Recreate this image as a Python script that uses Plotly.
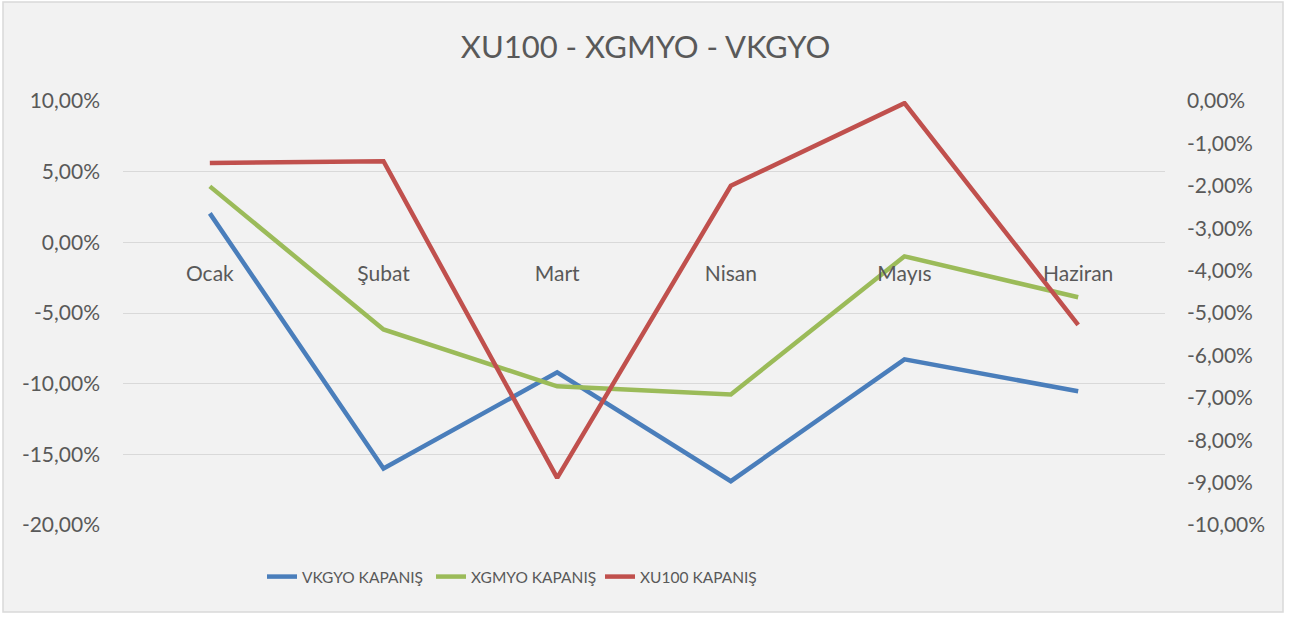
import plotly.graph_objects as go

months = ["Ocak", "Şubat", "Mart", "Nisan", "Mayıs", "Haziran"]
vkgyo = [0.0205, -0.160, -0.092, -0.169, -0.0828, -0.1054]
xgmyo = [0.0396, -0.0616, -0.1019, -0.1076, -0.0099, -0.0389]
xu100 = [-0.0146, -0.0142, -0.0889, -0.0200, -0.0005, -0.0528]

left_ticks = [0.10, 0.05, 0.0, -0.05, -0.10, -0.15, -0.20]
left_labels = ["10,00%", "5,00%", "0,00%", "-5,00%", "-10,00%", "-15,00%", "-20,00%"]
right_ticks = [0.0, -0.01, -0.02, -0.03, -0.04, -0.05, -0.06, -0.07, -0.08, -0.09, -0.10]
right_labels = ["0,00%", "-1,00%", "-2,00%", "-3,00%", "-4,00%", "-5,00%",
                "-6,00%", "-7,00%", "-8,00%", "-9,00%", "-10,00%"]

FONT = "Lato, Carlito, Calibri, sans-serif"
GREY = "#595959"

fig = go.Figure()
fig.add_trace(go.Scatter(x=months, y=vkgyo, mode="lines", name="VKGYO KAPANIŞ",
                         line=dict(color="#4A7EBB", width=4.5)))
fig.add_trace(go.Scatter(x=months, y=xgmyo, mode="lines", name="XGMYO KAPANIŞ",
                         line=dict(color="#9BBB59", width=4.5)))
fig.add_trace(go.Scatter(x=months, y=xu100, mode="lines", name="XU100 KAPANIŞ",
                         line=dict(color="#C0504D", width=4.5), yaxis="y2"))

fig.update_layout(
    width=1291, height=617,
    margin=dict(l=123, r=126, t=101, b=92),
    paper_bgcolor="white",
    plot_bgcolor="rgba(0,0,0,0)",
    font=dict(family=FONT, color=GREY, size=21),
    title=dict(text="XU100 - XGMYO - VKGYO", x=0.5, xanchor="center",
               y=1 - 47 / 617, yanchor="middle",
               font=dict(size=31, color=GREY, family=FONT)),
    xaxis=dict(range=[-0.5, 5.5], anchor="free", position=2 / 3,
               showgrid=False, showline=False, ticks="", zeroline=False,
               ticklabelstandoff=17, tickfont=dict(size=21, color=GREY)),
    yaxis=dict(range=[-0.20, 0.10], tickvals=left_ticks, ticktext=left_labels,
               showgrid=True, gridcolor="#D9D9D9", gridwidth=1.3, zeroline=False,
               showline=False, ticks="", ticklabelstandoff=22,
               tickfont=dict(size=21, color=GREY)),
    yaxis2=dict(range=[-0.10, 0.0], tickvals=right_ticks, ticktext=right_labels,
                overlaying="y", side="right", showgrid=False, zeroline=False,
                showline=False, ticks="", ticklabelstandoff=21,
                tickfont=dict(size=21, color=GREY)),
    legend=dict(orientation="h", x=(262 - 123) / 1042, xanchor="left",
                y=-52 / 424, yanchor="middle", bgcolor="rgba(0,0,0,0)",
                font=dict(size=15.5, color=GREY, family=FONT), tracegroupgap=0,
                entrywidth=124, entrywidthmode="pixels"),
    shapes=[dict(type="rect", xref="paper", yref="paper", layer="below",
                 x0=(3 - 123) / 1042, x1=(1283 - 123) / 1042,
                 y0=-(612 - 525) / 424, y1=(525 - 2) / 424,
                 fillcolor="#F2F2F2", line=dict(color="#D9D9D9", width=1.5))],
)

fig.write_html("out.html", config={"displayModeBar": False},
               post_script="document.body.style.margin='0';")
